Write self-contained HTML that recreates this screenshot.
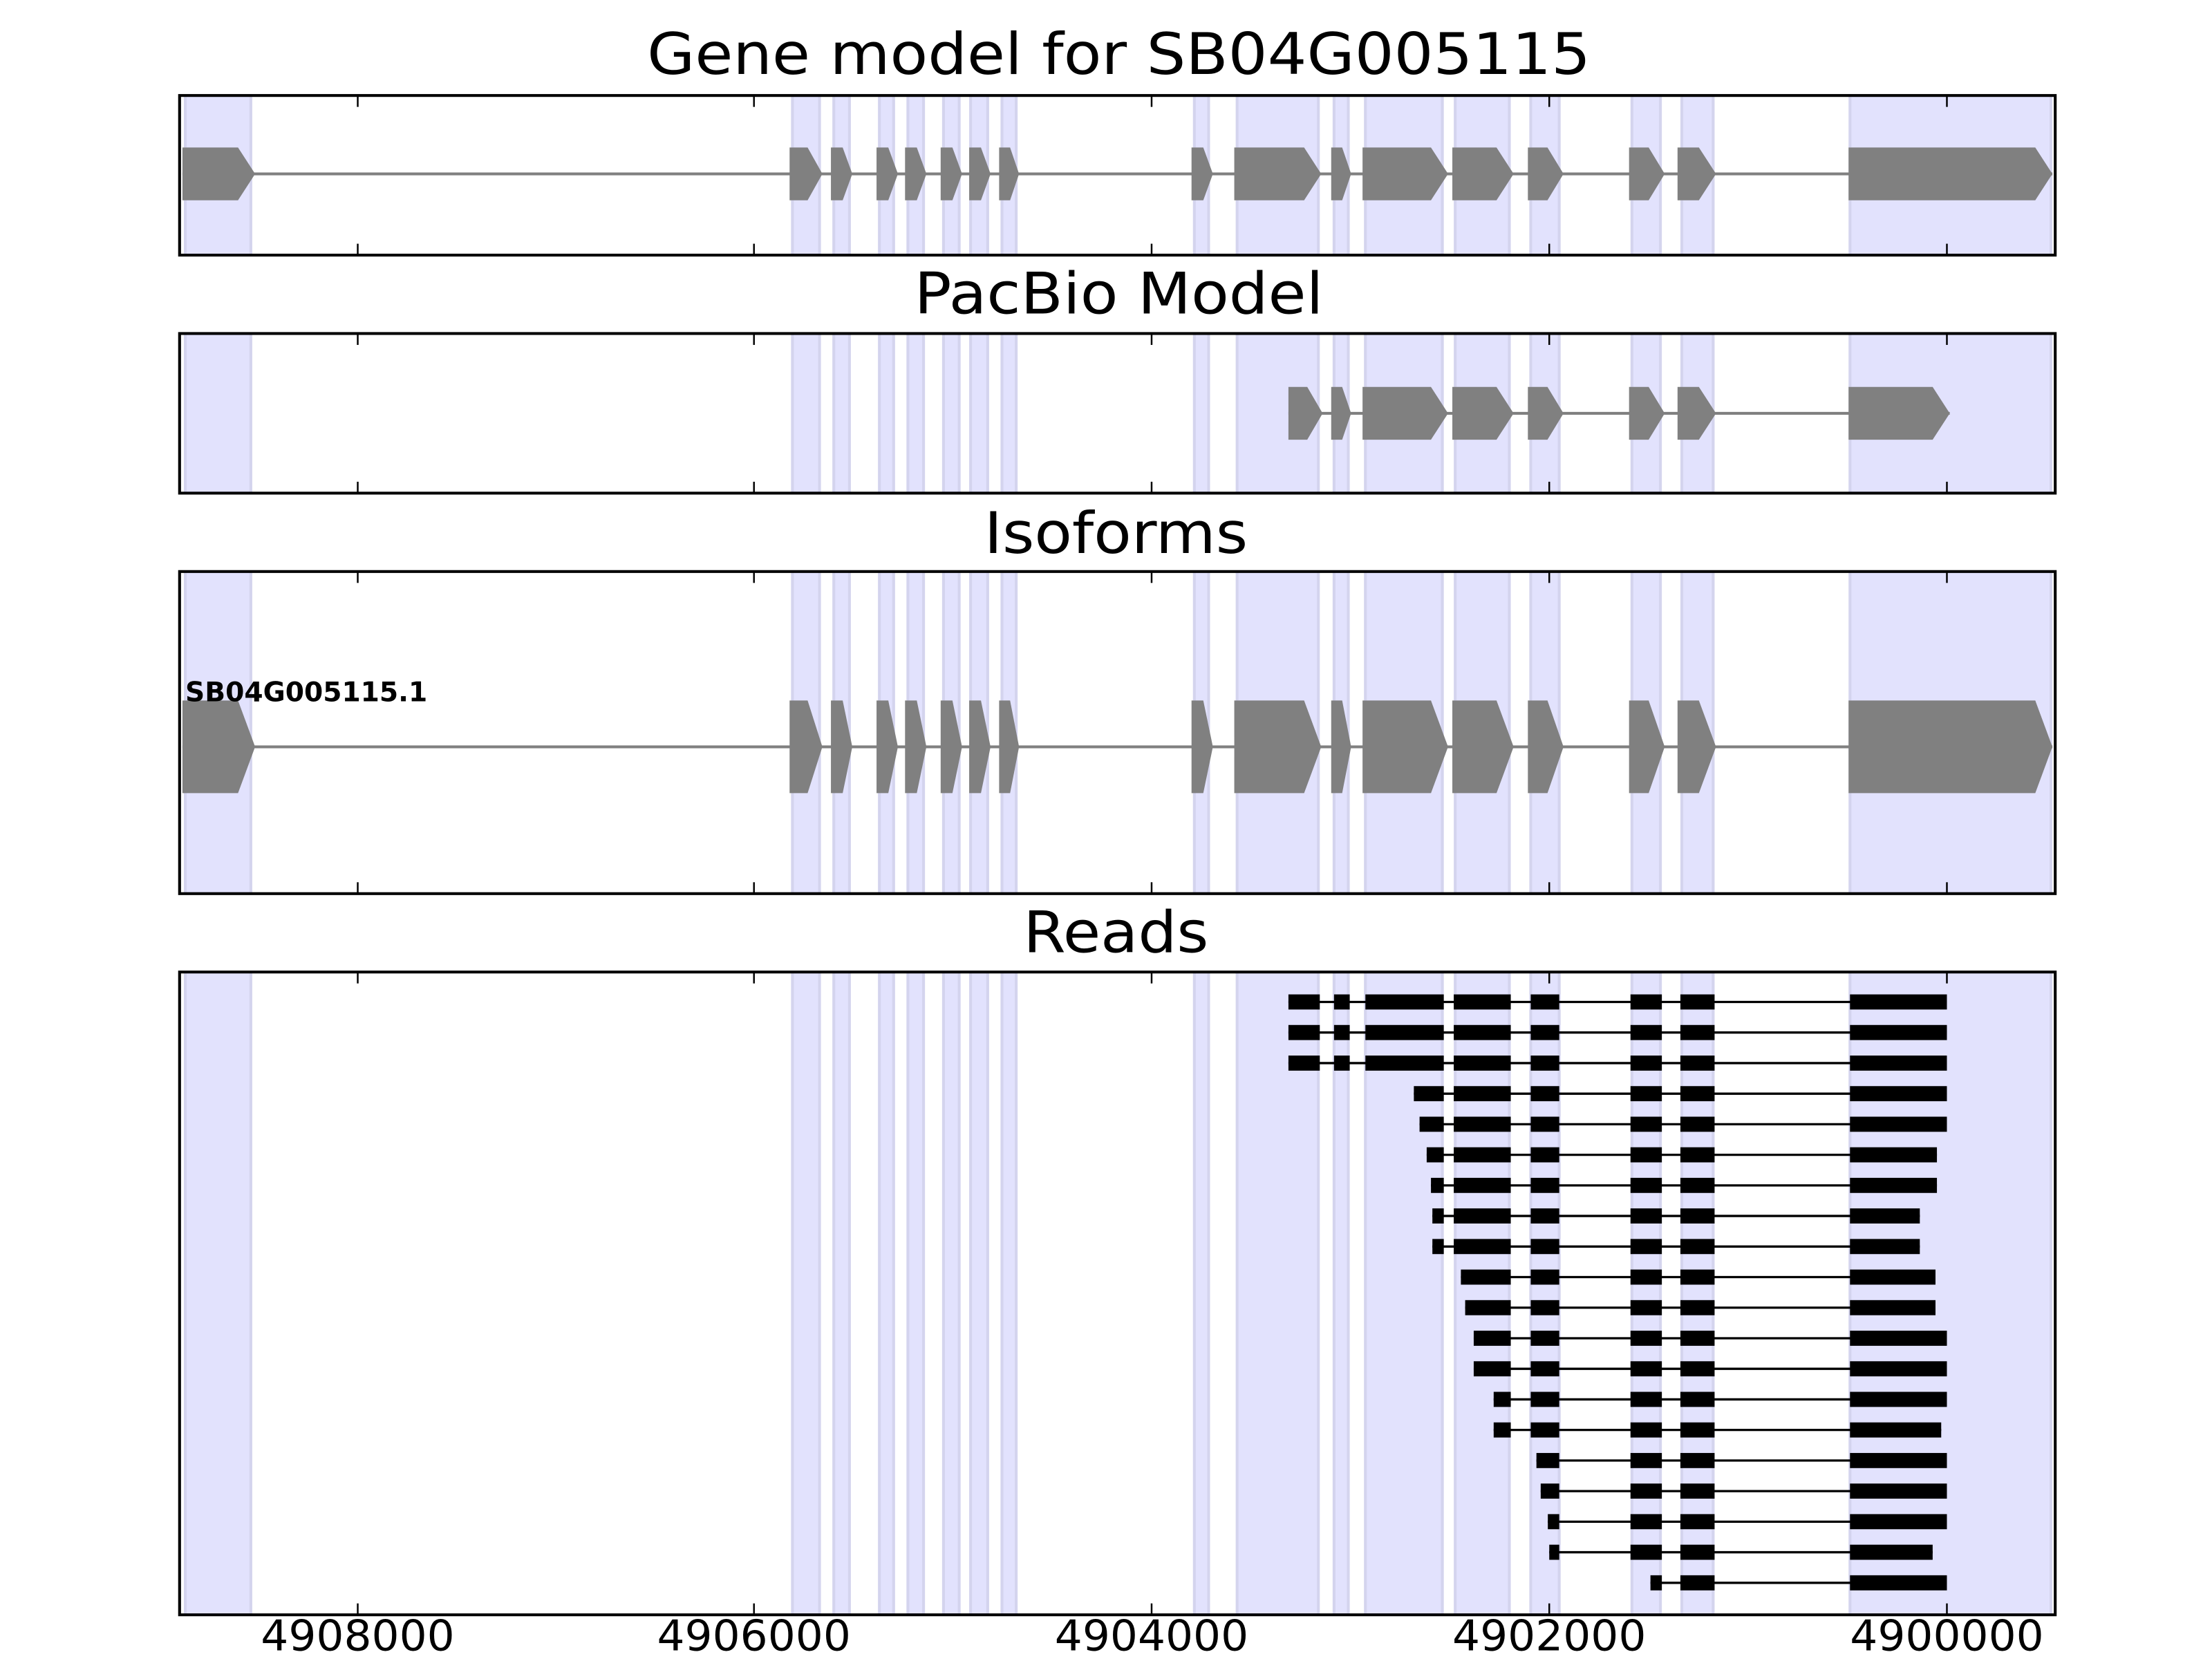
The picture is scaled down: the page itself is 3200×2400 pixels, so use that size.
<!DOCTYPE html>
<html><head><meta charset="utf-8">
<style>html,body{margin:0;padding:0;background:#fff;}svg{display:block;}</style>
</head><body>
<svg id="s" xmlns="http://www.w3.org/2000/svg" width="3200" height="2400" viewBox="0 0 1552 1164" font-family="'DejaVu Sans','Liberation Sans',sans-serif">
<rect width="1552" height="1164" fill="#fff"/>
<g id="bands"></g>
<g id="content"></g>
<g id="frames" fill="none" stroke="#000" stroke-width="2"></g>
<text x="785" y="52" font-size="40" text-anchor="middle" textLength="662" lengthAdjust="spacingAndGlyphs">Gene model for SB04G005115</text>
<text x="785" y="220" font-size="40" text-anchor="middle" textLength="287" lengthAdjust="spacingAndGlyphs">PacBio Model</text>
<text x="783" y="388" font-size="40" text-anchor="middle" textLength="185" lengthAdjust="spacingAndGlyphs">Isoforms</text>
<text x="783" y="668" font-size="40" text-anchor="middle" textLength="130" lengthAdjust="spacingAndGlyphs">Reads</text>
<text x="130" y="492" font-size="19" font-weight="bold">SB04G005115.1</text>
<g font-size="30" text-anchor="middle">
<text x="251" y="1158" textLength="136" lengthAdjust="spacingAndGlyphs">4908000</text>
<text x="529" y="1158" textLength="136" lengthAdjust="spacingAndGlyphs">4906000</text>
<text x="808" y="1158" textLength="136" lengthAdjust="spacingAndGlyphs">4904000</text>
<text x="1087" y="1158" textLength="136" lengthAdjust="spacingAndGlyphs">4902000</text>
<text x="1366" y="1158" textLength="136" lengthAdjust="spacingAndGlyphs">4900000</text>
</g>
</svg>
<script>
(function(){
var NS="http://www.w3.org/2000/svg";
function el(p,t,a){var e=document.createElementNS(NS,t);for(var k in a)e.setAttribute(k,a[k]);p.appendChild(e);return e;}
var panels=[[67,179],[234,346],[401,627],[682,1133]];
var bands=[[130,176],[556,575],[585,596],[617,627],[637,648],[662,673],[681,693],[703,713],[838,848],[868,925],[936,946],[958,1012],[1021,1059],[1074,1094],[1145,1165],[1180,1202],[1298,1439]];
var B=document.getElementById('bands'),C=document.getElementById('content'),F=document.getElementById('frames');
panels.forEach(function(p){
 bands.forEach(function(b){
  el(B,'rect',{x:b[0],y:p[0],width:b[1]-b[0],height:p[1]-p[0],fill:'#e2e2fd'});
  el(B,'rect',{x:b[0]-1,y:p[0],width:2,height:p[1]-p[0],fill:'#d4d4ee'});
  el(B,'rect',{x:b[1]-1,y:p[0],width:2,height:p[1]-p[0],fill:'#d4d4ee'});
 });
 el(F,'rect',{x:126,y:p[0],width:1316,height:p[1]-p[0]});
 [251,529,808,1087,1366].forEach(function(x){
  el(F,'line',{x1:x,y1:p[0],x2:x,y2:p[0]+8,'stroke-width':1.2});
  el(F,'line',{x1:x,y1:p[1],x2:x,y2:p[1]-8,'stroke-width':1.2});
 });
});
var gene=[[128,179],[554,577],[583,598],[615,630],[635,650],[660,675],[680,695],[701,715],[836,851],[866,927],[934,948],[956,1016],[1019,1062],[1072,1097],[1143,1168],[1177,1204],[1297,1440]];
function model(ex,cy,h){
 el(C,'line',{x1:ex[0][0],y1:cy,x2:ex[ex.length-1][1],y2:cy,stroke:'#808080','stroke-width':2});
 ex.forEach(function(e){
  var a=Math.min(12,(e[1]-e[0])*0.45),t=cy-h/2,b=cy+h/2;
  el(C,'polygon',{points:e[0]+','+t+' '+(e[1]-a)+','+t+' '+e[1]+','+cy+' '+(e[1]-a)+','+b+' '+e[0]+','+b,fill:'#808080'});
 });
}
model(gene,122,37);
model([[904,928],[934,948],[956,1016],[1019,1062],[1072,1097],[1143,1168],[1177,1204],[1297,1368]],290,37);
model(gene,524,65);
var common=[[1074,1094],[1144,1166],[1179,1203]];
var full=[[904,926],[936,947],[958,1013],[1020,1060]];
var rows=[
 [full,1366],[full,1366],[full,1366],
 [[[992,1013],[1020,1060]],1366],
 [[[996,1013],[1020,1060]],1366],
 [[[1001,1013],[1020,1060]],1359],
 [[[1004,1013],[1020,1060]],1359],
 [[[1005,1013],[1020,1060]],1347],
 [[[1005,1013],[1020,1060]],1347],
 [[[1025,1060]],1358],
 [[[1028,1060]],1358],
 [[[1034,1060]],1366],
 [[[1034,1060]],1366],
 [[[1048,1060]],1366],
 [[[1048,1060]],1362],
 [[],1366,1078],
 [[],1366,1081],
 [[],1366,1086],
 [[],1356,1087],
 null
];
rows.forEach(function(r,i){
 var cy=703+i*21.45,ex;
 if(r===null){ex=[[1158,1166],[1179,1203],[1298,1366]];}
 else{
  ex=r[0].slice();
  var c=common.map(function(x){return x.slice();});
  if(r[2])c[0][0]=r[2];
  ex=ex.concat(c);ex.push([1298,r[1]]);
 }
 el(C,'line',{x1:ex[0][0],y1:cy,x2:ex[ex.length-1][1],y2:cy,stroke:'#000','stroke-width':1.6});
 ex.forEach(function(e){el(C,'rect',{x:e[0],y:cy-5.3,width:e[1]-e[0],height:10.6,fill:'#000'});});
});
})();
</script>
</body></html>
